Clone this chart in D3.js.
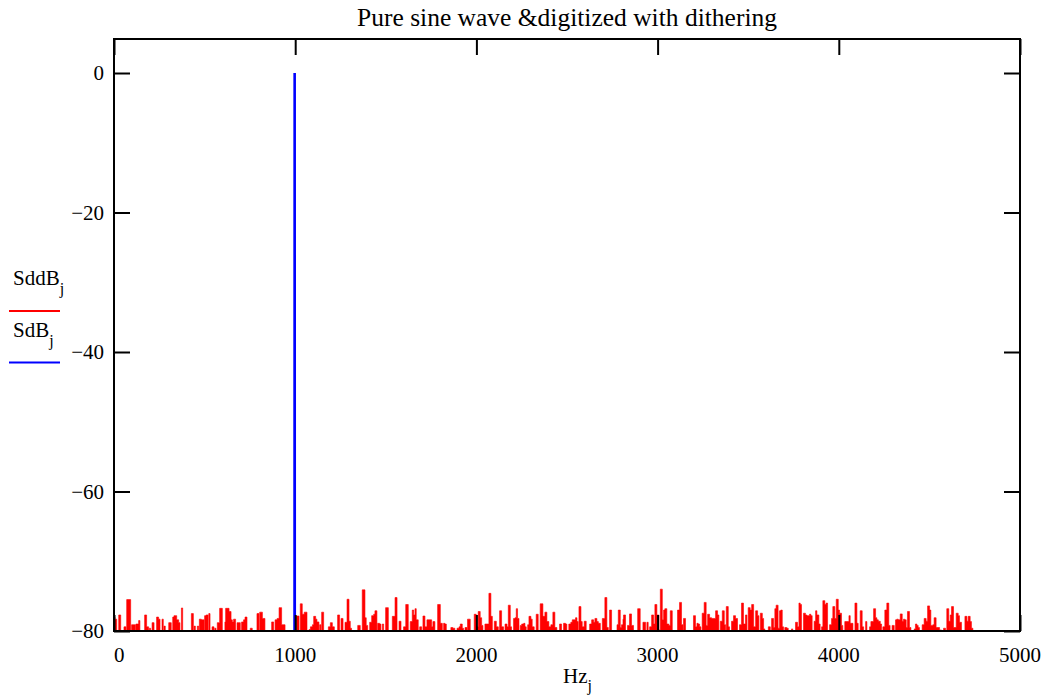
<!DOCTYPE html>
<html>
<head>
<meta charset="utf-8">
<script src="https://cdn.jsdelivr.net/npm/d3@7"></script>
<style>
  html, body { margin: 0; padding: 0; background: #fff; }
  svg { display: block; font-family: "Liberation Serif", "Times New Roman", serif; }
</style>
</head>
<body>
<svg id="chart" width="1048" height="696"></svg>
<script>
// ---------------- data ----------------
const title = "Pure sine wave &digitized with dithering";
const xTicks = [0, 1000, 2000, 3000, 4000, 5000];
const yTicks = [0, -20, -40, -60, -80];
const xDomain = [0, 5000];
const yDomain = [-80, 4.875];
const L = -90; // below plot floor (clipped)

// SddB_j : dithered spectrum (run starts in Hz, level in dB)
const sddHz = [0,5.5,15,26,37,55,66,70,92,97,118,121,136,143,169,180,191,195,202,210,221,235,246,254,265,272,276,283,302,316,324,331,346,357,364,372,379,427,438,442,449,460,467,471,482,497,500,508,519,523,530,541,552,556,563,570,
583,598,612,616,635,646,653,660,671,679,697,704,715,723,734,752,763,789,800,804,819,833,870,881,889,900,911,925,944,1006,1021,1028,1039,1050,1065,1076,1084,1095,1102,1113,1120,1131,1135,1142,1146,1157,1183,1194,1205,1216,
1234,1245,1253,1264,1275,1286,1297,1304,1311,1345,1359,1370,1385,1392,1400,1411,1422,1433,1440,1451,1455,1466,1473,1481,1488,1499,1514,1536,1551,1562,1573,1584,1598,1610,1624,1635,1646,1654,1661,1668,1679,1687,1698,1705,1716,1727,1753,1760,1771,1786,1801,1812,1819,
1826,1834,1859,1870,1881,1893,1904,1911,1922,1929,1937,1948,1951,1966,1988,1999,2010,2021,2029,2036,2047,2069,2080,2088,2099,2110,2121,2128,2139,2150,2158,2169,2176,2187,2194,2205,2213,2220,2227,2235,2242,2250,2261,2268,2275,2283,2290,2301,2308,2319,2330,2341,2352,2367,2378,2389,2400,2411,2422,
2433,2444,2459,2470,2481,2492,2499,2510,2521,2529,2547,2555,2562,2566,2577,2584,2595,2606,2625,2636,2647,2654,2665,2673,2684,2695,2709,2720,2728,2735,2746,2776,2783,2794,2801,2809,2812,2823,2834,2845,2856,2867,2890,2904,2919,2934,2941,2948,2956,2967,2978,2985,2996,3007,3015,3026,3033,
3040,3051,3062,3070,3081,3110,3121,3132,3140,3143,3154,3198,3209,3217,3224,3232,3239,3246,3257,3268,3276,3287,3298,3320,3331,3338,3346,3357,3368,3375,3379,3390,3397,3408,3419,3430,3441,3452,3463,3474,3485,3493,3500,3511,3519,3530,3541,3552,3559,3567,3578,3585,3592,3611,3622,3629,3640,
3647,3654,3665,3673,3680,3688,3695,3702,3713,3721,3739,3746,3761,3772,3780,3787,3794,3805,3816,3824,3838,3846,3853,3864,3872,3879,3890,3897,3905,3912,3923,3930,3938,3949,3960,3967,3978,3986,3997,4004,4015,4022,4033,4056,4063,4078,4089,4100,4107,4118,4129,4137,4148,4155,4170,4177,4192,4203,4210,4218,4229,4236,4243,
4254,4265,4276,4283,4294,4306,4313,4320,4328,4339,4350,4357,4364,4372,4379,4390,4398,4416,4423,4431,4438,4445,4460,4471,4482,4490,4501,4508,4519,4526,4537,4556,4567,4578,4589,4596,4607,4615,4622,4633,4648,4659,4666,4677,4696,4707,4714,4725,4732,4740];
const sddDb = [-78.0,-78.3,L,-77.7,L,-79.4,L,-75.5,L,-79.1,L,-79.0,-78.5,L,-77.7,-79.4,L,-79.6,L,-78.8,L,-78.0,-78.3,L,-78.3,L,-79.3,L,-78.8,L,-78.0,-77.8,-78.4,-78.8,L,-76.7,L,-77.5,L,-79.3,L,-79.3,L,-78.3,-78.4,L,-77.8,-77.7,L,-77.5,L,-79.4,L,-79.6,L,-78.8,
-76.75,L,-78.7,-76.75,-77.2,-78.4,-78.7,-78.3,L,-78.8,L,-78.7,-78.4,-78.0,L,-79.6,L,-77.5,L,-77.3,-78.2,L,-78.7,L,-78.4,-78.2,-76.65,-79.1,L,-77.85,L,-76.1,-77.6,-77.3,L,-79.8,-79.4,-79.1,-77.9,-78.3,-78.7,L,-79.1,L,-77.3,L,-79.4,-78.8,-79.4,L,
-77.7,L,-78.2,L,-78.75,-75.45,-78.6,-79.6,L,-79.2,L,-74.1,-78.1,-79.2,L,-78.75,-77.8,-77.6,-77.1,L,-78.9,-79.0,L,-79.0,L,-76.65,L,-77.9,-75.2,L,-78.6,L,-79.4,-76.2,L,-78.65,-77.0,-77.7,-76.8,-78.4,L,-79.4,L,-77.85,-79.4,-78.4,-79.4,-78.65,L,-76.2,-78.9,L,-78.9,
-79.0,L,-79.5,-79.6,L,-79.6,-79.4,-79.0,-79.6,L,-79.5,L,-78.3,L,-77.6,-79.4,-77.2,-78.1,-79.2,L,-79.0,-74.6,-77.9,L,-78.6,-79.4,L,-77.1,-79.4,L,-79.0,-79.4,-76.3,-79.4,L,-78.2,-78.1,-76.8,-78.2,L,-79.2,-79.0,-78.9,-79.4,L,-79.1,-77.9,-78.3,-79.4,L,-77.6,L,-76.1,-77.9,-77.3,-78.65,-79.4,-79.1,-77.3,
-79.5,L,-79.0,L,-78.9,-79.0,L,-79.0,-78.75,-78.4,-78.1,-78.65,L,-76.5,-78.65,-79.4,-78.6,L,-79.0,-78.4,-78.75,-78.2,-78.65,-78.9,L,-78.2,-75.2,-79.5,L,-77.0,L,-79.1,-77.0,-79.5,-79.1,-78.3,-77.7,L,-79.2,-77.55,-79.2,L,-76.8,L,-78.75,L,-78.75,L,-79.4,-77.7,-79.0,-76.2,-77.7,-79.85,-74.0,-78.4,-77.0,
-76.8,-79.0,-79.2,-77.1,L,-77.0,-75.9,-79.1,L,-78.2,L,-77.8,-79.4,-78.9,-79.0,-79.4,L,-77.45,-75.9,-79.2,-77.6,-78.1,-78.2,-77.1,-77.7,L,-78.6,-77.1,-79.1,L,-76.5,-79.4,L,-78.6,-77.8,-78.2,L,-79.1,-76.0,-79.0,-77.7,L,-76.65,-77.0,-76.2,-79.4,-77.1,-77.8,L,-77.45,-78.2,-79.7,L,-79.4,L,-78.2,-79.5,
-76.8,-76.3,-79.6,-77.1,-77.0,-79.4,L,-79.5,-79.6,L,-79.7,L,-78.75,-79.4,-76.0,-76.2,L,-77.45,-77.7,-77.8,-77.6,-77.8,L,-78.6,-77.1,-77.7,-79.0,L,-79.4,-75.65,-76.2,-76.0,L,-79.1,-78.2,-76.5,-78.2,-75.45,-77.0,-77.45,-79.2,L,-78.65,-77.8,-78.9,L,-76.0,-78.9,L,-77.1,-79.4,L,-78.65,L,-79.4,-78.65,-76.8,-78.1,-78.4,-78.6,-79.0,L,-79.4,
-77.0,-76.0,-79.2,L,-79.2,L,-78.4,-78.3,-78.4,-77.55,-78.6,-78.3,-78.4,-79.5,-77.2,-79.5,L,-79.7,-79.0,-79.2,-79.5,L,-79.1,-78.2,-78.6,-76.4,-77.0,-79.2,-79.1,-78.1,-79.5,-79.85,L,-79.6,L,-76.8,-78.6,-77.7,-76.5,-79.5,-77.45,-77.8,-78.75,L,-77.9,-78.6,-77.9,-78.65,-79.6,L];

// SdB_j : pure (undithered) spectrum — only the 1 kHz line is above the floor
const sdHz = [996, 997, 998];
const sdDb = [-120, 0, -120];

// ---------------- chart ----------------
const svg = d3.select("#chart");
const plot = { left: 114, right: 1020, top: 39, bottom: 631 };
const x = d3.scaleLinear().domain(xDomain).range([plot.left, plot.right]);
const y = d3.scaleLinear().domain(yDomain).range([plot.bottom, plot.top]);

const FONT = 21;
const SUB = 16;

svg.append("defs").append("clipPath").attr("id", "clip")
  .append("rect")
  .attr("x", plot.left).attr("y", plot.top)
  .attr("width", plot.right - plot.left).attr("height", plot.bottom - plot.top);

const gData = svg.append("g").attr("clip-path", "url(#clip)");

const sdd = sddHz.map((h, i) => ({ hz: h, db: sddDb[i] }));
const area = d3.area()
  .x(d => x(d.hz))
  .y0(y(-80))
  .y1(d => y(Math.max(d.db, -80)))
  .curve(d3.curveStepAfter);
gData.append("path").datum(sdd)
  .attr("d", area)
  .attr("fill", "#ff0000")
  .attr("stroke", "#ff0000")
  .attr("stroke-width", 0.6);

const sd = sdHz.map((h, i) => ({ hz: h, db: sdDb[i] }));
gData.append("path").datum(sd)
  .attr("d", d3.line().x(d => x(d.hz)).y(d => y(d.db)))
  .attr("fill", "none")
  .attr("stroke", "#0000ff")
  .attr("stroke-width", 2.6);

// frame
svg.append("rect")
  .attr("x", plot.left).attr("y", plot.top)
  .attr("width", plot.right - plot.left).attr("height", plot.bottom - plot.top)
  .attr("fill", "none").attr("stroke", "#000").attr("stroke-width", 2);

// axes (inward ticks)
const TL = 16;
const axB = svg.append("g").attr("transform", `translate(0,${plot.bottom})`)
  .call(d3.axisBottom(x).tickValues(xTicks).tickSize(-TL).tickFormat(""));
const axT = svg.append("g").attr("transform", `translate(0,${plot.top})`)
  .call(d3.axisTop(x).tickValues(xTicks).tickSize(-TL).tickFormat(""));
const axL = svg.append("g").attr("transform", `translate(${plot.left},0)`)
  .call(d3.axisLeft(y).tickValues(yTicks).tickSize(-TL).tickFormat(""));
const axR = svg.append("g").attr("transform", `translate(${plot.right},0)`)
  .call(d3.axisRight(y).tickValues(yTicks).tickSize(-TL).tickFormat(""));
[axB, axT, axL, axR].forEach(g => {
  g.select(".domain").remove();
  g.selectAll(".tick line").attr("stroke", "#000").attr("stroke-width", 2);
});

// tick labels
svg.append("g").selectAll("text").data(xTicks).join("text")
  .attr("x", d => x(d))
  .attr("y", 662)
  .attr("text-anchor", d => d === 0 ? "start" : "middle")
  .attr("font-size", FONT)
  .attr("fill", "#000")
  .text(d => d);
svg.append("g").selectAll("text").data(yTicks).join("text")
  .attr("x", 104)
  .attr("y", d => y(d) + 7)
  .attr("text-anchor", "end")
  .attr("font-size", FONT)
  .attr("fill", "#000")
  .text(d => d < 0 ? "\u2212" + Math.abs(d) : d);

// title
svg.append("text")
  .attr("x", (plot.left + plot.right) / 2).attr("y", 26)
  .attr("text-anchor", "middle").attr("font-size", 25.5)
  .text(title);

// x axis label Hz_j
const xl = svg.append("text")
  .attr("x", 563).attr("y", 683)
  .attr("font-size", FONT);
xl.append("tspan").text("Hz");
xl.append("tspan").attr("dy", 8).attr("font-size", SUB).text("j");

// legend
const legend = [
  { name: "SddB", y: 285, color: "#ff0000", ly: 311 },
  { name: "SdB", y: 337, color: "#0000ff", ly: 362.5 }
];
legend.forEach(l => {
  const t = svg.append("text").attr("x", 13).attr("y", l.y).attr("font-size", FONT);
  t.append("tspan").text(l.name);
  t.append("tspan").attr("dy", 9).attr("font-size", SUB).text("j");
  svg.append("line")
    .attr("x1", 9).attr("x2", 60).attr("y1", l.ly).attr("y2", l.ly)
    .attr("stroke", l.color).attr("stroke-width", 2);
});
</script>
</body>
</html>
